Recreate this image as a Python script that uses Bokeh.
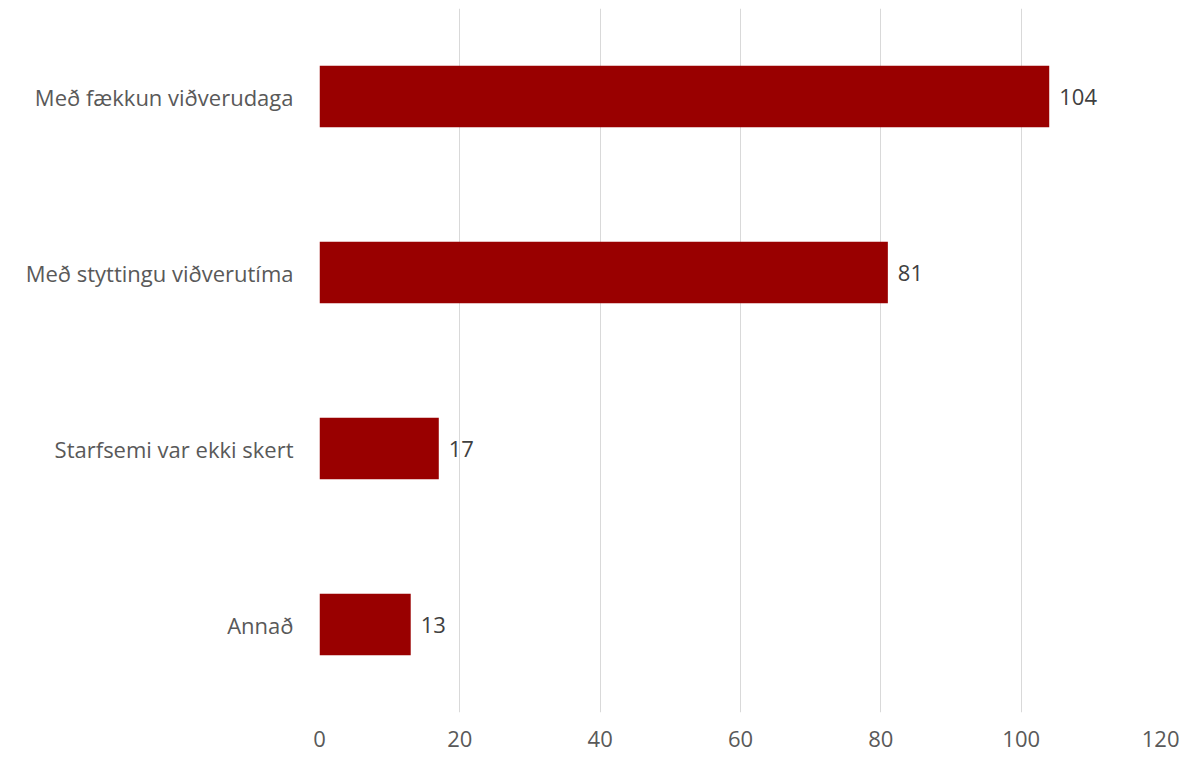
from bokeh.plotting import figure
from bokeh.models import ColumnDataSource, Range1d, FactorRange
from bokeh.embed import file_html
from bokeh.resources import INLINE
from bokeh.core.properties import value

categories = ["Með fækkun viðverudaga", "Með styttingu viðverutíma", "Starfsemi var ekki skert", "Annað"]
counts = [104, 81, 17, 13]
x_ticks = [0, 20, 40, 60, 80, 100, 120]

FONT = "Open Sans"
FS = "22px"
src = ColumnDataSource(dict(cat=categories, val=counts, lbl=[str(v) for v in counts]))

p = figure(width=1179, height=758, output_backend="svg", toolbar_location=None,
           y_range=FactorRange(*categories[::-1]), x_range=Range1d(0, 120),
           min_border_left=319, min_border_right=18, min_border_top=8, min_border_bottom=46)
p.outline_line_color = None
p.background_fill_color = "white"
p.border_fill_color = "white"

p.hbar(y="cat", right="val", left=0, height=0.35, source=src,
       fill_color="#990000", line_color=None)
p.text(x="val", y="cat", text="lbl", source=src, x_offset=10,
       text_baseline="middle", text_align="left", text_font=value(FONT),
       text_font_size=FS, text_color="#404040")

p.xgrid.ticker = x_ticks
p.xgrid.grid_line_color = "#d9d9d9"
p.xgrid.grid_line_width = 1
p.ygrid.grid_line_color = None

p.xaxis.ticker = x_ticks
p.xaxis.axis_line_color = None
p.xaxis.major_tick_line_color = None
p.xaxis.minor_tick_line_color = None
p.xaxis.major_tick_out = 0
p.xaxis.major_label_standoff = 18
p.xaxis.major_label_text_font = FONT
p.xaxis.major_label_text_font_size = FS
p.xaxis.major_label_text_color = "#595959"

p.yaxis.axis_line_color = None
p.yaxis.major_tick_line_color = None
p.yaxis.minor_tick_line_color = None
p.yaxis.major_tick_out = 0
p.yaxis.major_label_standoff = 26
p.yaxis.major_label_text_font = FONT
p.yaxis.major_label_text_font_size = FS
p.yaxis.major_label_text_color = "#595959"

open("out.html", "w").write(file_html(p, INLINE))
